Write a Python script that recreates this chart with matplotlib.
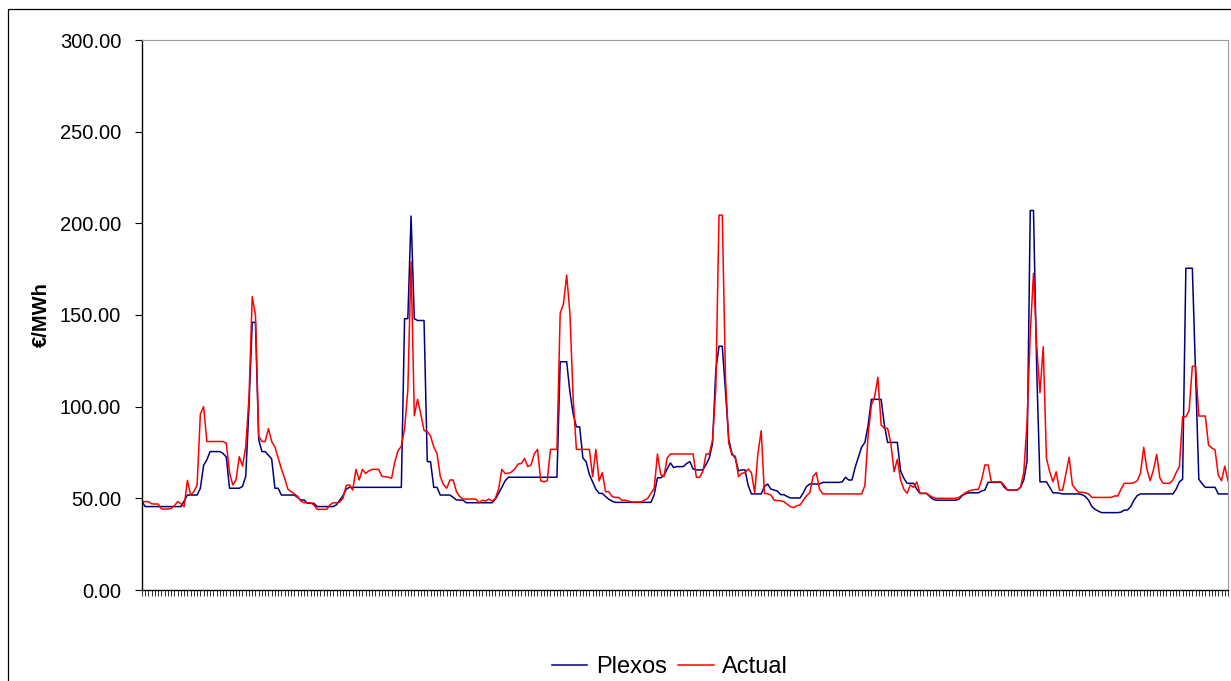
import numpy as np
import matplotlib
matplotlib.use("Agg")
import matplotlib.pyplot as plt
from matplotlib.patches import Rectangle

plt.rcParams['font.family'] = ['Liberation Sans', 'DejaVu Sans']

# half-hourly prices, one list of 48 values per day
plexos_day1 = [48.2, 45.5, 45.5, 45.5, 45.5, 45.5, 45.5, 45.5, 45.5, 45.5,
               45.5, 45.5, 45.5, 48.5, 51.8, 51.8, 51.8, 51.8, 55.5, 68.0,
               71.0, 75.5, 75.5, 75.5, 75.5, 74.5, 72.5, 55.5, 55.5, 55.5,
               55.5, 56.5, 62.0, 100.0, 146.0, 146.0, 82.0, 75.5, 75.5, 73.5,
               71.5, 55.5, 55.5, 51.8, 51.8, 51.8, 51.8, 51.8]
plexos_day2 = [50.5, 49.1, 49.1, 47.3, 47.3, 47.3, 45.5, 45.5, 45.5, 45.5,
               45.5, 45.5, 46.5, 49.0, 51.5, 55.0, 56.0, 56.0, 56.0, 56.0,
               56.0, 56.0, 56.0, 56.0, 56.0, 56.0, 56.0, 56.0, 56.0, 56.0,
               56.0, 56.0, 56.0, 148.0, 148.0, 204.0, 148.0, 147.0, 147.0, 147.0,
               70.0, 70.0, 56.0, 56.0, 51.8, 51.8, 51.8, 51.8]
plexos_day3 = [50.5, 49.1, 49.1, 49.0, 47.6, 47.6, 47.6, 47.6, 47.6, 47.6,
               47.6, 47.6, 47.6, 49.5, 52.7, 56.0, 59.5, 61.5, 61.5, 61.5,
               61.5, 61.5, 61.5, 61.5, 61.5, 61.5, 61.5, 61.5, 61.5, 61.5,
               61.5, 61.5, 61.5, 124.5, 124.5, 124.5, 108.0, 96.0, 89.0, 89.0,
               72.0, 70.0, 63.0, 59.0, 55.0, 52.7, 52.7, 51.0]
plexos_day4 = [49.5, 48.5, 47.8, 47.8, 47.8, 47.8, 47.8, 47.8, 47.8, 47.8,
               47.8, 47.8, 47.8, 47.8, 52.0, 61.2, 61.2, 62.5, 66.0, 69.3,
               66.8, 67.3, 67.3, 67.3, 69.0, 70.0, 66.0, 65.5, 65.5, 65.5,
               68.5, 72.0, 80.0, 120.0, 133.0, 133.0, 108.0, 82.0, 74.5, 72.0,
               65.0, 65.5, 65.5, 57.0, 52.4, 52.4, 52.4, 52.4]
plexos_day5 = [56.5, 57.8, 55.0, 54.5, 54.0, 52.0, 52.0, 51.0, 50.2, 50.2,
               50.2, 50.2, 53.0, 56.5, 57.8, 57.8, 57.8, 57.8, 58.7, 58.7,
               58.7, 58.7, 58.7, 58.7, 59.0, 61.5, 60.0, 60.0, 67.0, 72.5,
               78.0, 80.5, 90.0, 104.0, 104.0, 104.0, 104.0, 90.0, 80.5, 80.5,
               80.5, 80.5, 65.0, 61.0, 58.2, 58.2, 58.2, 55.0]
plexos_day6 = [52.7, 52.7, 52.7, 51.0, 49.5, 49.0, 49.0, 49.0, 49.0, 49.0,
               49.0, 49.0, 49.5, 51.5, 52.5, 53.0, 53.0, 53.0, 53.0, 54.0,
               54.5, 58.7, 58.7, 58.7, 58.7, 58.7, 56.0, 54.5, 54.5, 54.5,
               54.5, 56.0, 60.0, 70.0, 207.0, 207.0, 120.0, 59.0, 59.0, 59.0,
               56.0, 53.0, 53.0, 52.8, 52.4, 52.4, 52.4, 52.4]
plexos_day7 = [52.4, 52.4, 52.0, 51.0, 49.0, 45.5, 44.0, 43.0, 42.2, 42.2,
               42.2, 42.2, 42.2, 42.2, 42.5, 43.6, 43.6, 45.5, 49.0, 51.5,
               52.4, 52.4, 52.4, 52.4, 52.4, 52.4, 52.4, 52.4, 52.4, 52.4,
               52.4, 55.0, 59.0, 60.4, 175.5, 175.5, 175.5, 118.0, 60.4, 58.0,
               56.0, 56.0, 56.0, 56.0, 52.4, 52.4, 52.4, 52.4]

actual_day1 = [48.2, 48.2, 48.2, 47.0, 46.9, 46.9, 44.2, 44.2, 44.2, 44.5,
               46.0, 48.2, 47.0, 45.5, 59.8, 51.8, 53.6, 57.3, 96.0, 100.0,
               81.0, 81.0, 81.0, 81.0, 81.0, 81.0, 80.0, 64.0, 57.3, 60.0,
               72.7, 67.6, 78.0, 105.0, 160.0, 150.0, 84.0, 81.0, 81.0, 88.0,
               81.0, 78.0, 72.0, 66.0, 61.0, 55.0, 53.6, 52.5]
actual_day2 = [51.0, 48.5, 47.6, 47.6, 47.6, 46.4, 44.0, 44.0, 44.0, 44.0,
               46.5, 47.6, 47.6, 48.0, 50.0, 57.0, 57.3, 54.5, 65.8, 60.0,
               65.8, 63.6, 65.0, 65.8, 65.8, 65.8, 62.0, 61.8, 61.5, 61.0,
               70.0, 76.0, 78.5, 88.0, 109.0, 179.0, 95.0, 104.0, 96.0, 87.0,
               86.4, 84.0, 78.0, 74.5, 62.0, 57.5, 55.5, 60.0]
actual_day3 = [60.0, 53.6, 51.0, 49.6, 49.6, 49.6, 49.6, 49.6, 47.6, 49.0,
               48.5, 49.6, 48.5, 50.0, 55.0, 65.8, 63.6, 63.6, 64.4, 66.0,
               68.7, 69.0, 71.7, 67.3, 68.2, 74.2, 76.7, 59.6, 59.0, 59.6,
               76.7, 76.7, 76.7, 151.0, 156.0, 171.8, 151.0, 104.5, 76.7, 76.7,
               76.7, 76.7, 76.7, 61.8, 76.7, 59.5, 64.0, 53.6]
actual_day4 = [53.6, 51.0, 50.5, 50.5, 49.0, 49.0, 48.5, 48.0, 48.0, 48.0,
               48.0, 49.0, 50.0, 52.7, 55.5, 74.2, 63.0, 61.8, 72.0, 74.2,
               74.2, 74.2, 74.2, 74.2, 74.2, 74.2, 74.2, 61.5, 61.5, 64.6,
               74.2, 74.2, 82.0, 110.0, 204.5, 204.5, 115.0, 80.0, 73.6, 73.0,
               61.8, 63.6, 64.0, 66.0, 64.0, 53.0, 74.5, 86.9]
actual_day5 = [52.7, 52.5, 51.8, 49.0, 48.8, 48.7, 48.2, 46.8, 45.5, 44.9,
               46.0, 46.4, 49.0, 51.5, 53.0, 62.0, 64.0, 55.0, 52.4, 52.4,
               52.4, 52.4, 52.4, 52.4, 52.4, 52.4, 52.4, 52.4, 52.4, 52.4,
               52.4, 57.0, 85.0, 101.0, 105.5, 116.0, 90.0, 88.2, 88.2, 80.0,
               64.5, 71.3, 60.0, 55.0, 52.7, 57.3, 56.0, 58.9]
actual_day6 = [52.7, 52.7, 52.7, 51.5, 50.5, 50.0, 50.0, 50.0, 50.0, 50.0,
               50.0, 50.0, 50.5, 51.8, 53.0, 54.0, 54.5, 54.8, 54.8, 60.0,
               68.2, 68.2, 59.0, 59.0, 59.0, 59.0, 57.0, 54.5, 54.5, 54.5,
               54.5, 56.0, 64.0, 91.0, 140.0, 172.7, 133.0, 107.6, 132.7, 71.8,
               64.5, 59.0, 64.5, 54.5, 54.5, 63.6, 72.4, 57.3]
actual_day7 = [55.0, 53.3, 53.3, 53.0, 52.4, 50.5, 50.5, 50.5, 50.5, 50.5,
               50.5, 50.5, 51.3, 51.3, 55.0, 58.2, 58.2, 58.2, 58.5, 59.6,
               63.6, 77.8, 65.8, 59.6, 65.5, 74.0, 61.0, 58.2, 58.2, 58.2,
               60.0, 64.0, 67.3, 94.5, 94.5, 97.8, 122.0, 122.0, 94.9, 94.9,
               94.9, 79.0, 77.5, 76.4, 62.7, 59.6, 67.6, 59.6]

plexos = (plexos_day1 + plexos_day2 + plexos_day3 + plexos_day4
          + plexos_day5 + plexos_day6 + plexos_day7)
actual = (actual_day1 + actual_day2 + actual_day3 + actual_day4
          + actual_day5 + actual_day6 + actual_day7)
periods = np.arange(len(plexos))

W, H = 1231, 681
fig = plt.figure(figsize=(W / 100, H / 100), dpi=100)

# chart area border
fig.patches.append(Rectangle((7.5 / W, -0.1), 1.2, 1.1 - 8.5 / H,
                             transform=fig.transFigure, fill=False,
                             edgecolor='black', linewidth=0.9))

ax = fig.add_axes([142 / W, (H - 590) / H, 1086 / W, 550 / H])
ax.plot(periods, plexos, color='#000080', linewidth=1.1, label='Plexos')
ax.plot(periods, actual, color='#ff0000', linewidth=1.1, label='Actual')

ax.set_xlim(0, len(plexos) - 1)
ax.set_ylim(0, 300)
ax.set_yticks(np.arange(0, 301, 50))
ax.yaxis.set_major_formatter(matplotlib.ticker.FormatStrFormatter('%.2f'))
ax.set_xticks(periods)
ax.set_xticklabels([])
ax.tick_params(axis='x', direction='out', length=4, width=0.7, color='#333333')
ax.tick_params(axis='y', direction='out', length=5, width=0.8,
               labelsize=14.5, pad=10)
ax.set_ylabel('€/MWh', fontsize=14.5, fontweight='bold')
ax.yaxis.set_label_coords(-91 / 1086, 0.5)

for side in ('top', 'right'):
    ax.spines[side].set_color('#9a9a9a')
    ax.spines[side].set_linewidth(0.8)
for side in ('left', 'bottom'):
    ax.spines[side].set_color('black')
    ax.spines[side].set_linewidth(1.0)

fig.legend(loc='center', bbox_to_anchor=(670 / W, (H - 667) / H), ncol=2,
           frameon=False, fontsize=17, handlelength=1.5, handletextpad=0.35,
           columnspacing=0.5)

fig.savefig('out.png', dpi=100)
